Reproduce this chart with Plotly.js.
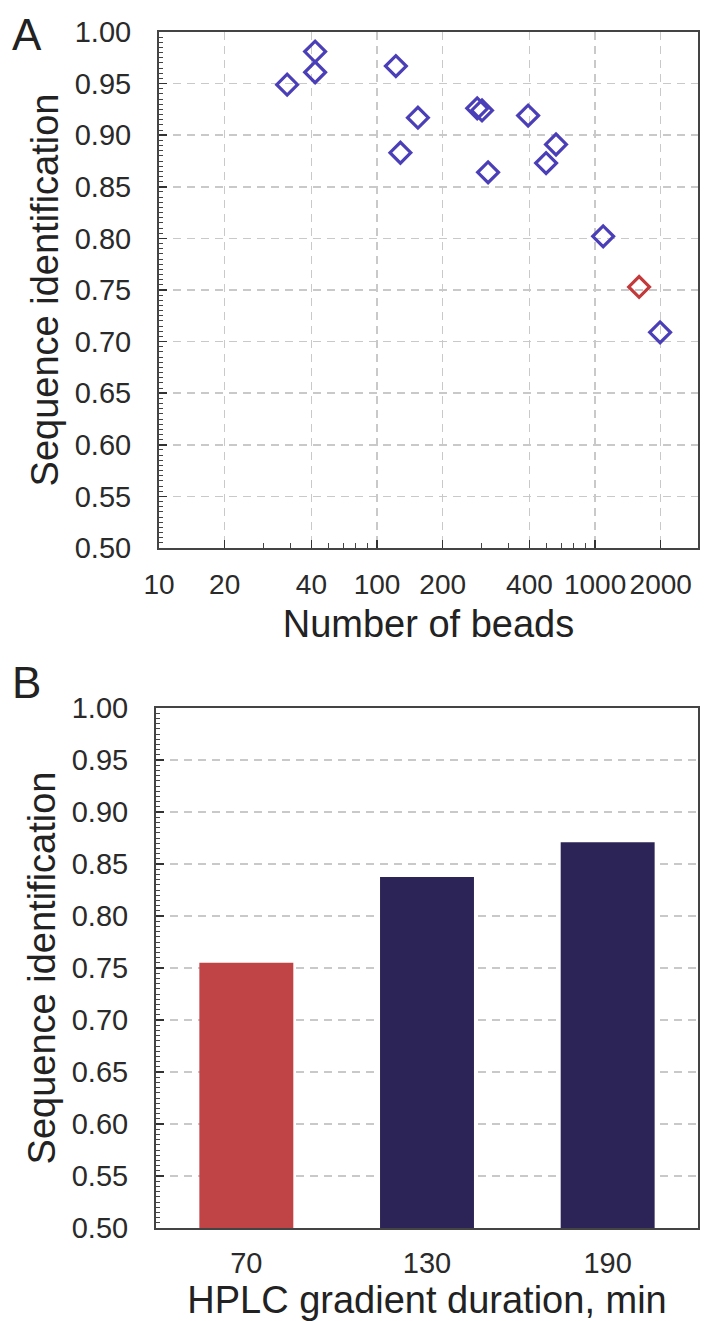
<!DOCTYPE html>
<html>
<head>
<meta charset="utf-8">
<script src="https://cdn.plot.ly/plotly-3.0.1.min.js"></script>
<style>html,body{margin:0;padding:0;background:#fff;}#chart{width:719px;height:1321px;}</style>
</head>
<body>
<div id="chart"></div>
<script>
// Panel A: number of beads vs sequence identification
const beadsBlue = [38.7, 52, 52, 122, 154, 128, 288, 303, 323, 493, 662, 596, 1089, 1987];
const identBlue = [0.949, 0.981, 0.961, 0.967, 0.917, 0.883, 0.926, 0.924, 0.864, 0.919, 0.891, 0.873, 0.802, 0.709];
const beadsRed = [1592];
const identRed = [0.753];

// Axis tick labels of panel A (as printed)
const xTickVals = [10, 20, 50, 100, 200, 500, 1000, 2000];
const xTickText = ['10', '20', '40', '100', '200', '400', '1000', '2000'];
const xMinorVals = [30, 40, 60, 70, 80, 90, 300, 400, 600, 700, 800, 900];

// Panel B: HPLC gradient duration
const durations = ['70', '130', '190'];
const identByDuration = [0.755, 0.8375, 0.871];
const barColors = ['#c04346', '#2c2456', '#2c2456'];

const yTicks = [0.50,0.55,0.60,0.65,0.70,0.75,0.80,0.85,0.90,0.95,1.00];
const yTickText = yTicks.map(v => v.toFixed(2));

const FONT = 'Liberation Sans, Arial, Helvetica, sans-serif';
const GRID = '#c9c9c9';
const BLUE = '#4b3fb8';
const RED = '#c23a3c';

const data = [
  {x: beadsBlue, y: identBlue, type: 'scatter', mode: 'markers', xaxis: 'x', yaxis: 'y',
   marker: {symbol: 'diamond-open', size: 16, color: BLUE, line: {width: 3.2, color: BLUE}},
   showlegend: false, hoverinfo: 'x+y'},
  {x: beadsRed, y: identRed, type: 'scatter', mode: 'markers', xaxis: 'x', yaxis: 'y',
   marker: {symbol: 'diamond-open', size: 16, color: RED, line: {width: 3.2, color: RED}},
   showlegend: false, hoverinfo: 'x+y'},
  // invisible trace to activate the minor-tick overlay axis
  {x: [xMinorVals[0]], y: [0.5], type: 'scatter', mode: 'markers', xaxis: 'x3', yaxis: 'y',
   marker: {opacity: 0}, showlegend: false, hoverinfo: 'skip'},
  {x: durations, y: identByDuration, type: 'bar', xaxis: 'x2', yaxis: 'y2',
   marker: {color: barColors}, showlegend: false, hoverinfo: 'x+y'}
];

const yBase = {
  range: [0.5, 1.0], tickvals: yTicks, ticktext: yTickText,
  ticks: 'inside', ticklen: 8, tickwidth: 1.5, tickcolor: '#333',
  minor: {dtick: 0.005, ticks: 'inside', ticklen: 4, tickcolor: '#444', tickwidth: 1, showgrid: false},
  showgrid: true, gridcolor: GRID, griddash: '8px,6px', gridwidth: 1.5,
  zeroline: false, showline: true, linecolor: '#444', linewidth: 2, mirror: true,
  tickfont: {family: FONT, size: 29, color: '#2a2a2a'},
  ticklabelstandoff: 20,
  title: {text: 'Sequence identification', font: {family: FONT, size: 38, color: '#222'}, standoff: 4},
  fixedrange: true
};

const layout = {
  width: 719, height: 1321,
  margin: {l: 0, r: 0, t: 0, b: 0},
  paper_bgcolor: '#ffffff', plot_bgcolor: '#ffffff',
  font: {family: FONT, color: '#222'},
  xaxis: {
    domain: [159/719, 698/719], anchor: 'y', type: 'log', range: [1, 3.472],
    tickvals: xTickVals, ticktext: xTickText, tickangle: 0,
    ticks: 'inside', ticklen: 8, tickwidth: 1.5, tickcolor: '#333',
    showgrid: true, gridcolor: GRID, griddash: '8px,6px', gridwidth: 1.5,
    zeroline: false, showline: true, linecolor: '#444', linewidth: 2, mirror: true,
    tickfont: {family: FONT, size: 28, color: '#2a2a2a'},
    ticklabelstandoff: 10,
    title: {text: 'Number of beads', font: {family: FONT, size: 38, color: '#222'}, standoff: 12},
    fixedrange: true
  },
  xaxis3: {
    overlaying: 'x', anchor: 'y', type: 'log', range: [1, 3.472],
    domain: [159/719, 698/719],
    tickvals: xMinorVals, ticks: 'inside', ticklen: 5, tickcolor: '#444', tickwidth: 1,
    showticklabels: false, showgrid: false, zeroline: false, showline: false, fixedrange: true
  },
  yaxis: Object.assign({}, yBase, {domain: [1 - 548/1321, 1 - 32/1321], anchor: 'x'}),
  xaxis2: {
    domain: [156/719, 698/719], anchor: 'y2', type: 'category', range: [-0.5, 2.5], tickangle: 0,
    ticks: '', showgrid: false, zeroline: false, showline: true, linecolor: '#444', linewidth: 2, mirror: true,
    tickfont: {family: FONT, size: 29, color: '#2a2a2a'},
    ticklabelstandoff: 8,
    title: {text: 'HPLC gradient duration, min', font: {family: FONT, size: 38, color: '#222'}, standoff: 12},
    fixedrange: true
  },
  yaxis2: Object.assign({}, yBase, {domain: [1 - 1228/1321, 1 - 708/1321], anchor: 'x2'}),
  bargap: 0.48,
  annotations: [
    {text: 'A', xref: 'paper', yref: 'paper', x: 10/719, y: 1 - 8/1321, xanchor: 'left', yanchor: 'top',
     showarrow: false, font: {family: FONT, size: 44, color: '#222'}},
    {text: 'B', xref: 'paper', yref: 'paper', x: 10/719, y: 1 - 656/1321, xanchor: 'left', yanchor: 'top',
     showarrow: false, font: {family: FONT, size: 44, color: '#222'}}
  ]
};

Plotly.newPlot('chart', data, layout, {displayModeBar: false, staticPlot: true});
</script>
</body>
</html>
